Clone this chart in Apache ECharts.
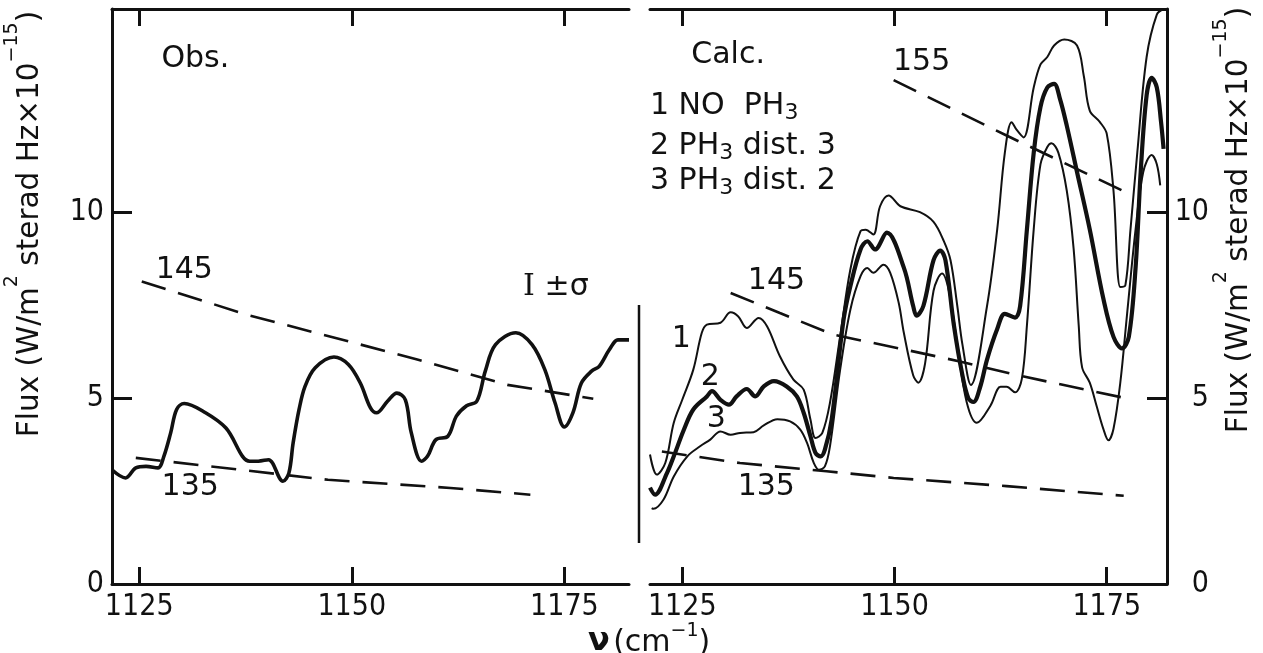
<!DOCTYPE html>
<html>
<head>
<meta charset="utf-8">
<script src="https://cdn.jsdelivr.net/npm/echarts@6/dist/echarts.min.js"></script>
<style>
  html, body { margin: 0; padding: 0; background: #fff; }
  #chart { width: 1263px; height: 653px; }
</style>
</head>
<body>
<div id="chart"></div>
<script>
// observed spectrum (left panel)  [wavenumber, flux]
const obsSpectrum = [
  [1121.8, 3.07], [1123.4, 2.85], [1124.6, 3.12], [1125.8, 3.16], [1127.2, 3.12],
  [1127.9, 3.43], [1128.7, 4.06], [1129.4, 4.69], [1130.3, 4.85], [1132.8, 4.60],
  [1135.2, 4.19], [1138.0, 3.30], [1139.0, 3.30], [1140.2, 3.34], [1141.9, 2.76],
  [1142.6, 2.98], [1143.1, 3.79], [1143.8, 4.69], [1144.5, 5.31], [1145.7, 5.81],
  [1147.9, 6.10], [1149.6, 5.90], [1151.0, 5.40], [1152.2, 4.73], [1152.9, 4.60],
  [1154.2, 4.91], [1155.3, 5.13], [1156.3, 4.95], [1157.0, 4.06], [1158.2, 3.30],
  [1158.9, 3.43], [1159.9, 3.88], [1161.3, 3.97], [1162.3, 4.51], [1163.5, 4.79],
  [1164.7, 4.91], [1165.7, 5.72], [1166.9, 6.43], [1169.3, 6.75], [1171.2, 6.43],
  [1172.7, 5.76], [1173.9, 4.87], [1175.0, 4.22], [1176.0, 4.60], [1177.0, 5.40],
  [1178.2, 5.72], [1179.1, 5.85], [1180.3, 6.30], [1181.3, 6.56], [1182.6, 6.56]
];
// calculated: 1 NO PH3
const calcNoPH3 = [
  [1121.2, 3.48], [1122.0, 2.94], [1123.0, 3.25], [1124.0, 4.33], [1125.0, 4.95],
  [1126.3, 5.76], [1127.3, 6.75], [1127.9, 6.97], [1129.5, 7.02], [1130.7, 7.30],
  [1131.6, 7.19], [1132.6, 6.88], [1134.0, 7.15], [1135.0, 6.92], [1136.5, 6.12],
  [1138.1, 5.49], [1139.3, 5.22], [1140.1, 4.42], [1140.7, 3.92], [1141.5, 4.06],
  [1142.4, 4.87], [1143.6, 6.66], [1144.8, 8.45], [1146.0, 9.48], [1146.6, 9.52],
  [1147.5, 9.39], [1148.3, 10.15], [1149.3, 10.44], [1150.7, 10.15], [1153.0, 9.99],
  [1154.6, 9.73], [1155.8, 9.22], [1156.6, 8.70], [1157.4, 7.47], [1158.0, 6.44],
  [1159.0, 5.35], [1160.9, 7.47], [1162.1, 9.53], [1163.0, 11.59], [1163.8, 12.41],
  [1164.4, 12.20], [1165.2, 12.00], [1166.4, 13.34], [1167.2, 13.96], [1168.0, 14.16],
  [1168.8, 14.47], [1170.0, 14.63], [1171.5, 14.47], [1172.3, 13.65], [1173.0, 12.72],
  [1174.2, 12.41], [1175.0, 12.10], [1175.8, 10.56], [1176.6, 7.98], [1177.2, 8.03],
  [1177.8, 9.53], [1178.6, 11.59], [1179.7, 14.16], [1180.9, 15.30], [1181.7, 15.45]
];
// calculated: 2 PH3 dist.3 (thick)
const calcDist3 = [
  [1121.2, 2.59], [1121.8, 2.40], [1123.2, 2.98], [1124.0, 3.43], [1125.2, 4.15],
  [1126.3, 4.69], [1127.9, 5.04], [1128.5, 5.18], [1129.5, 4.95], [1130.5, 4.82],
  [1131.4, 5.04], [1132.6, 5.24], [1133.6, 5.04], [1134.6, 5.31], [1135.8, 5.45],
  [1137.3, 5.31], [1138.5, 5.04], [1139.3, 4.60], [1140.1, 3.97], [1140.7, 3.52],
  [1141.3, 3.43], [1141.8, 3.61], [1142.6, 4.42], [1144.0, 7.10], [1144.8, 8.00],
  [1146.0, 8.99], [1146.8, 9.21], [1147.7, 8.99], [1149.1, 9.44], [1151.1, 8.50],
  [1152.2, 7.47], [1152.6, 7.21], [1153.4, 7.47], [1154.6, 8.70], [1155.4, 8.96],
  [1156.0, 8.70], [1157.0, 6.95], [1158.0, 5.61], [1158.7, 4.99], [1159.3, 4.89],
  [1160.1, 5.30], [1160.9, 6.03], [1162.1, 6.85], [1163.0, 7.26], [1164.2, 7.16],
  [1164.8, 7.47], [1165.6, 9.53], [1166.4, 11.59], [1167.2, 12.82], [1168.0, 13.34],
  [1168.8, 13.44], [1169.5, 13.03], [1170.3, 12.31], [1171.5, 11.07], [1173.0, 9.53],
  [1174.6, 7.67], [1175.8, 6.64], [1176.8, 6.33], [1177.6, 6.64], [1178.4, 8.50],
  [1179.0, 11.07], [1179.7, 13.13], [1180.3, 13.60], [1180.9, 13.34], [1181.4, 12.41],
  [1181.7, 11.69]
];
// calculated: 3 PH3 dist.2
const calcDist2 = [
  [1121.4, 2.04], [1121.6, 2.02], [1122.8, 2.27], [1124.0, 2.89], [1125.6, 3.43],
  [1127.1, 3.70], [1128.3, 3.88], [1129.5, 4.10], [1130.7, 4.01], [1131.8, 4.06],
  [1133.4, 4.08], [1134.6, 4.26], [1136.2, 4.43], [1137.7, 4.37], [1138.9, 4.15],
  [1139.7, 3.79], [1140.5, 3.25], [1141.1, 3.07], [1141.8, 3.16], [1142.4, 3.70],
  [1143.6, 5.76], [1144.8, 7.37], [1146.0, 8.27], [1146.8, 8.49], [1147.5, 8.36],
  [1148.7, 8.58], [1149.5, 8.36], [1150.5, 7.55], [1151.1, 6.75], [1152.2, 5.61],
  [1152.8, 5.41], [1153.6, 5.92], [1154.6, 7.88], [1155.6, 8.34], [1156.4, 7.88],
  [1157.4, 6.44], [1158.5, 4.89], [1159.7, 4.33], [1161.3, 4.79], [1162.5, 5.30],
  [1163.2, 5.30], [1164.2, 5.15], [1165.0, 5.51], [1165.6, 6.95], [1166.4, 9.53],
  [1167.2, 11.28], [1168.0, 11.74], [1168.5, 11.84], [1169.3, 11.59], [1170.3, 10.56],
  [1171.1, 9.01], [1171.7, 6.95], [1172.1, 5.82], [1173.0, 5.41], [1173.8, 4.79],
  [1174.6, 4.17], [1175.2, 3.86], [1175.8, 4.17], [1176.6, 5.41], [1177.4, 7.26],
  [1178.4, 9.53], [1179.3, 11.07], [1180.3, 11.53], [1180.9, 11.28], [1181.3, 10.71]
];
// dashed reference curves (brightness temperature 135/145/155 K)
const obs145 = [[1125.3, 8.13], [1137.6, 7.24], [1149.6, 6.52], [1157.7, 6.03], [1168.3, 5.35], [1178.4, 4.98]];
const obs135 = [[1124.6, 3.39], [1147.2, 2.80], [1161.6, 2.58], [1171.0, 2.40]];
const calc145 = [[1130.7, 7.82], [1136.5, 7.28], [1142.8, 6.70], [1151.2, 6.30], [1157.7, 5.98], [1165.1, 5.58], [1177.1, 5.00]];
const calc135 = [[1122.6, 3.56], [1131.8, 3.25], [1142.0, 3.03], [1149.9, 2.85], [1163.2, 2.63], [1177.0, 2.37]];
const calc155 = [[1149.9, 13.54], [1163.2, 12.05], [1177.4, 10.51]];

const xTicks = [1125, 1150, 1175];
const yTicks = [0, 5, 10];

const FONT = 'DejaVu Sans';
const TICKFONT = '"DejaVu Sans Condensed", "DejaVu Sans"';
const INK = '#111';

// text sitting at a data coordinate
function note(coord, text, align) {
  return {
    coord: coord,
    symbol: 'circle',
    symbolSize: 0,
    itemStyle: { color: 'transparent' },
    label: {
      show: true,
      position: 'inside',
      align: align || 'center',
      verticalAlign: 'middle',
      formatter: text,
      color: INK,
      fontFamily: FONT,
      fontSize: 30,
      rich: {
        n: { fontFamily: FONT, fontSize: 30, color: INK, lineHeight: 34 },
        s: { fontFamily: 'DejaVu Serif', fontSize: 30, color: INK, lineHeight: 34 },
        sub: { fontFamily: FONT, fontSize: 22, color: INK, lineHeight: 34, padding: [14, 0, 0, 0] }
      }
    }
  };
}

function xAxes(grid, lo, hi) {
  return [{
    type: 'value', gridIndex: grid, position: 'bottom', min: lo, max: hi,
    splitLine: { show: false },
    axisLine: { show: true, lineStyle: { color: INK, width: 3 } },
    axisTick: { show: true, inside: true, length: 17, customValues: xTicks, lineStyle: { color: INK, width: 3 } },
    axisLabel: {
      show: true, customValues: xTicks, margin: 8, color: INK, fontFamily: TICKFONT, fontSize: 30,
      formatter: v => String(v)
    }
  }, {
    type: 'value', gridIndex: grid, position: 'top', min: lo, max: hi,
    splitLine: { show: false },
    axisLine: { show: true, lineStyle: { color: INK, width: 3 } },
    axisTick: { show: true, inside: true, length: 17, customValues: xTicks, lineStyle: { color: INK, width: 3 } },
    axisLabel: { show: false }
  }];
}

function yAxis(grid, pos) {
  return {
    type: 'value', gridIndex: grid, position: pos, min: 0, max: 15.45,
    splitLine: { show: false },
    axisLine: { show: true, lineStyle: { color: INK, width: 3 } },
    axisTick: { show: true, inside: true, length: 20, customValues: [5, 10], lineStyle: { color: INK, width: 3 } },
    axisLabel: {
      show: true, customValues: yTicks, color: INK, fontFamily: TICKFONT, fontSize: 30,
      margin: pos === 'left' ? 8 : 42, align: 'right', formatter: v => String(v)
    }
  };
}

// rotated axis title, reads bottom to top
const nameRich = {
  n: { fontFamily: FONT, fontSize: 29.5, fill: INK, lineHeight: 42, verticalAlign: 'bottom' },
  sup: { fontFamily: FONT, fontSize: 19, fill: INK, lineHeight: 42, verticalAlign: 'top' }
};
const yName = '{n|Flux (W/m}{sup|2}{n| sterad Hz×10}{sup|−15}{n|)}';
function yTitle(x, y) {
  return {
    type: 'text', x: x, y: y, rotation: Math.PI / 2,
    style: { text: yName, align: 'center', verticalAlign: 'middle', rich: nameRich }
  };
}

function curve(data, xi, yi, width, extra) {
  return Object.assign({
    type: 'line', xAxisIndex: xi, yAxisIndex: yi, data: data,
    showSymbol: false, smooth: 0.35, clip: true,
    lineStyle: { color: INK, width: width }, z: 3
  }, extra || {});
}

function dashed(data, xi, yi, notes) {
  return curve(data, xi, yi, 2.6, {
    smooth: false,
    lineStyle: { color: INK, width: 2.6, type: [25, 13] },
    markPoint: { silent: true, animation: false, data: notes }
  });
}

const chart = echarts.init(document.getElementById('chart'), null, { renderer: 'canvas' });
chart.setOption({
  backgroundColor: '#fff',
  animation: false,
  grid: [
    { left: 112, top: 9, width: 517, height: 575 },
    { left: 650, top: 9, width: 517, height: 575 }
  ],
  xAxis: xAxes(0, 1121.8, 1182.6).concat(xAxes(1, 1121.2, 1182.1)),
  yAxis: [yAxis(0, 'left'), yAxis(1, 'right')],
  graphic: [
    yTitle(24, 224),
    yTitle(1233, 220),
    {
      type: 'line',
      shape: { x1: 639, y1: 305, x2: 639, y2: 543 },
      style: { stroke: INK, lineWidth: 2.5 }
    }, {
      type: 'text',
      left: 588, top: 622,
      style: {
        text: '{b|ν} {n|(cm}{sup|−1}{n|)}',
        rich: {
          b: { fontFamily: FONT, fontSize: 32, fontWeight: 'bold', fill: INK, lineHeight: 36, verticalAlign: 'bottom' },
          n: { fontFamily: FONT, fontSize: 30, fill: INK, lineHeight: 36, verticalAlign: 'bottom' },
          sup: { fontFamily: FONT, fontSize: 19, fill: INK, lineHeight: 36, verticalAlign: 'top' }
        }
      }
    }
  ],
  series: [
    curve(obsSpectrum, 0, 0, 3.6),
    dashed(obs145, 0, 0, [note([1130.3, 8.42], '145'), note([1131.6, 14.09], 'Obs.'), note([1174.0, 7.97], '{s|I} {n|±σ}')]),
    dashed(obs135, 0, 0, [note([1131.0, 2.59], '135')]),
    curve(calcNoPH3, 2, 1, 2),
    curve(calcDist3, 2, 1, 4.2),
    curve(calcDist2, 2, 1, 2),
    dashed(calc145, 2, 1, [note([1136.1, 8.13], '145')]),
    dashed(calc135, 2, 1, [
      note([1134.9, 2.59], '135'),
      note([1124.9, 6.59], '1'), note([1128.3, 5.55], '2'), note([1129.0, 4.42], '3')
    ]),
    dashed(calc155, 2, 1, [
      note([1153.2, 14.01], '155'),
      note([1130.4, 14.2], 'Calc.'),
      note([1121.2, 12.83], '{n|1 NO  PH}{sub|3}', 'left'),
      note([1121.2, 11.76], '{n|2 PH}{sub|3}{n| dist. 3}', 'left'),
      note([1121.2, 10.82], '{n|3 PH}{sub|3}{n| dist. 2}', 'left')
    ])
  ]
});
</script>
</body>
</html>
